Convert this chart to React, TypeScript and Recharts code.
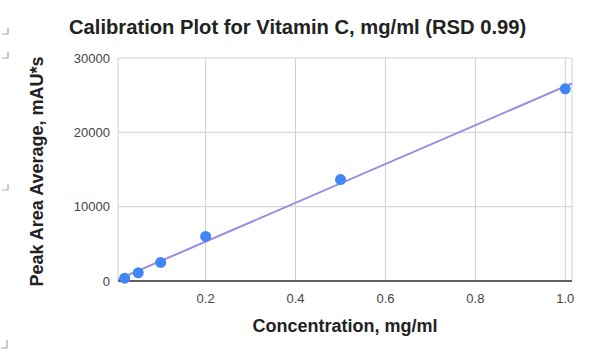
import React from "react";
import { ScatterChart, Scatter, XAxis, YAxis, CartesianGrid } from "recharts";

// calibration standards (mg/ml) and peak area averages (mAU*s)
const concentrations = [0.02, 0.05, 0.1, 0.2, 0.5, 1.0];
const peakAreas = [380, 1100, 2500, 6000, 13650, 25850];

// trendline ends
const trendX = [0.005, 1.015];
const trendY = [210, 26570];

const xTicks = [0.2, 0.4, 0.6, 0.8, 1.0];
const yTicks = [0, 10000, 20000, 30000];

const points = concentrations.map((x, i) => ({ x, y: peakAreas[i] }));
const trend = trendX.map((x, i) => ({ x, y: trendY[i] }));

const FONT = "'Liberation Sans', Arial, sans-serif";
const W = 611;
const H = 352;

export default function App() {
  return (
    <div style={{ position: "absolute", left: 0, top: 0, width: W, height: H, background: "#fff", fontFamily: FONT }}>
      <ScatterChart width={W} height={H} margin={{ top: 58, right: 39, bottom: 41, left: 0 }}>
        <CartesianGrid stroke="#d0d0d0" />
        <XAxis
          type="number"
          dataKey="x"
          domain={[0.005, 1.015]}
          ticks={xTicks}
          tickFormatter={(v: number) => v.toFixed(1)}
          tick={{ fontSize: 13, fill: "#444", fontFamily: FONT }}
          tickLine={false}
          tickMargin={7}
          axisLine={{ stroke: "#333", strokeWidth: 1.5 }}
          height={30}
          allowDataOverflow
        />
        <YAxis
          type="number"
          dataKey="y"
          domain={[0, 30000]}
          ticks={yTicks}
          tick={{ fontSize: 13, fill: "#444", fontFamily: FONT }}
          tickLine={false}
          axisLine={false}
          width={118}
        />
        <Scatter
          data={trend}
          line={{ stroke: "#958ce3", strokeWidth: 2 }}
          shape={() => <g />}
          isAnimationActive={false}
        />
        <Scatter
          data={points}
          fill="#4285f4"
          shape={(p: any) => <circle cx={p.cx} cy={p.cy} r={5.5} fill="#4285f4" />}
          isAnimationActive={false}
        />
      </ScatterChart>
      <svg width={W} height={H} style={{ position: "absolute", left: 0, top: 0, pointerEvents: "none" }}>
        <text x={69} y={34} fontSize={20.2} fontWeight="bold" fill="#222" fontFamily={FONT}>
          Calibration Plot for Vitamin C, mg/ml (RSD 0.99)
        </text>
        <text x={345} y={332} fontSize={18} fontWeight="bold" fill="#222" fontFamily={FONT} textAnchor="middle">
          Concentration, mg/ml
        </text>
        <text
          x={0}
          y={0}
          transform="translate(43,171.5) rotate(-90)"
          fontSize={18}
          fontWeight="bold"
          fill="#222"
          fontFamily={FONT}
          textAnchor="middle"
        >
          Peak Area Average, mAU*s
        </text>
        <g stroke="#aaa" strokeWidth={1.2} fill="none">
          <path d="M8 28 V34 H2" />
          <path d="M8 52 V58 H2" />
          <path d="M8 184 V190 H2" />
          <path d="M7 340 V348 H1" />
        </g>
      </svg>
    </div>
  );
}
